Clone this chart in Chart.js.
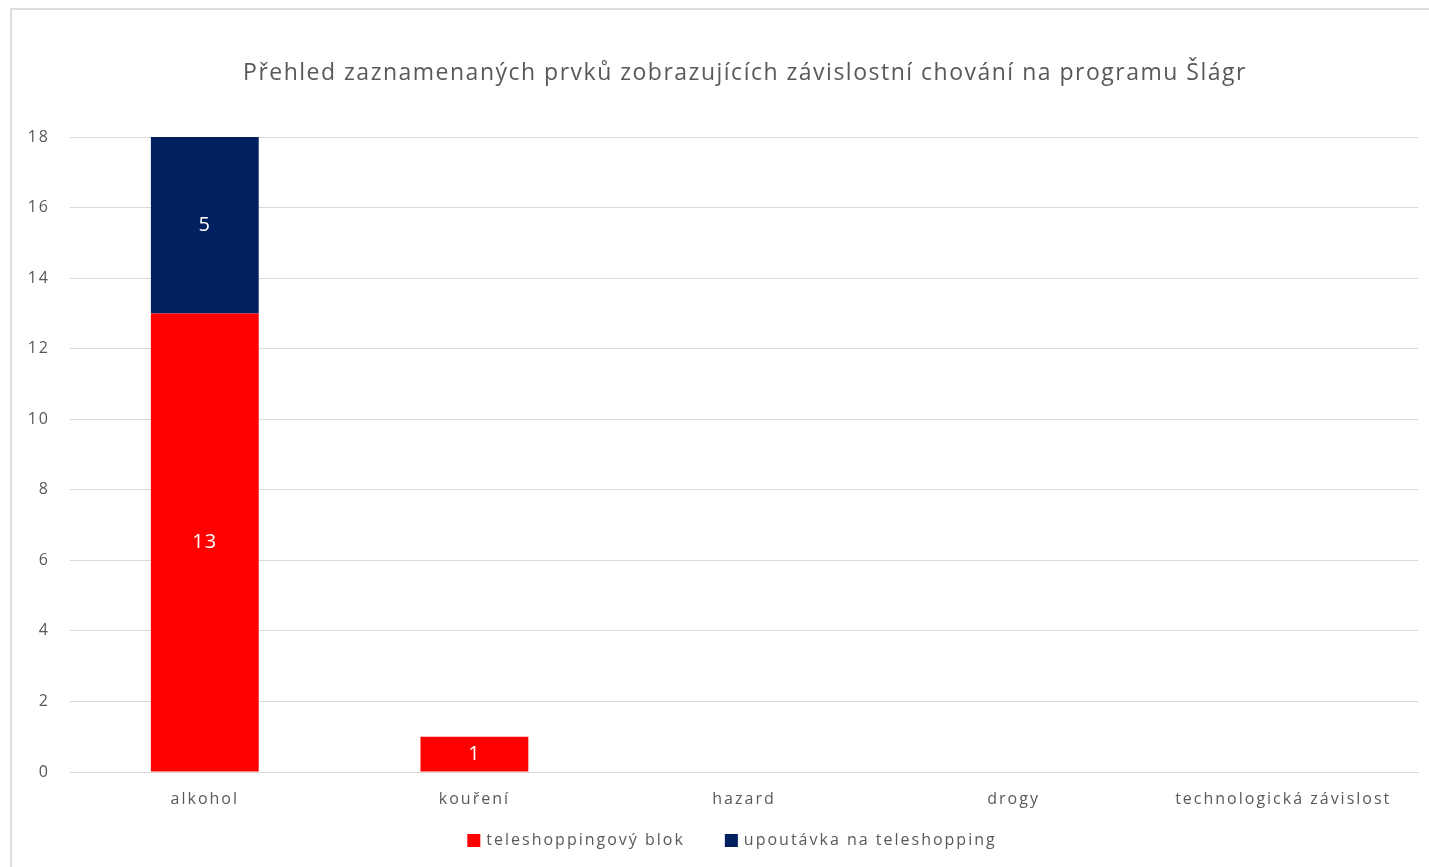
<!DOCTYPE html>
<html>
<head>
<meta charset="utf-8">
<script src="https://cdn.jsdelivr.net/npm/chart.js@4"></script>
<style>
  html, body { margin: 0; padding: 0; background: #fff; overflow: hidden; }
  #frame { position: absolute; left: 10px; top: 8px; width: 1500px; height: 900px; border-left: 2px solid #dcdcdc; border-top: 2px solid #dcdcdc; }
  #wrap { position: absolute; left: 0; top: 0; width: 1429px; height: 867px; }
</style>
</head>
<body>
<div id="frame"></div>
<div id="wrap"><canvas id="chart"></canvas></div>
<script>
// data
var categories = ["alkohol", "kouření", "hazard", "drogy", "technologická závislost"];
var teleshoppingBlok = [13, 1, 0, 0, 0];
var upoutavka = [5, 0, 0, 0, 0];
var yTicks = [0, 2, 4, 6, 8, 10, 12, 14, 16, 18];
var chartTitle = 'Přehled zaznamenaných prvků zobrazujících závislostní chování na programu Šlágr';

var textColor = '#595959';
var fontFamily = "'Open Sans', 'Liberation Sans', sans-serif";

// sirsi rozestup pismen (jako v originale)
var spacing = {
    id: 'spacing',
    beforeUpdate: function(chart) { chart.ctx.letterSpacing = '2px'; },
    beforeDraw: function(chart) { chart.ctx.letterSpacing = '2px'; }
};

// nadpis vycentrovany nad plochou grafu
var plotTitle = {
    id: 'plotTitle',
    afterDraw: function(chart) {
        var ctx = chart.ctx;
        var a = chart.chartArea;
        ctx.save();
        ctx.letterSpacing = '1.5px';
        ctx.fillStyle = textColor;
        ctx.font = '23px ' + fontFamily;
        ctx.textAlign = 'center';
        ctx.textBaseline = 'middle';
        ctx.fillText(chartTitle, (a.left + a.right) / 2 + 1, 73);
        ctx.restore();
    }
};

// legenda pod grafem
var bottomLegend = {
    id: 'bottomLegend',
    afterDraw: function(chart) {
        var ctx = chart.ctx;
        var a = chart.chartArea;
        ctx.save();
        ctx.letterSpacing = '2px';
        ctx.font = '16px ' + fontFamily;
        ctx.textBaseline = 'middle';
        ctx.textAlign = 'left';
        var items = chart.data.datasets.map(function(ds) {
            return { text: ds.label, color: ds.backgroundColor, w: 19 + ctx.measureText(ds.label).width };
        });
        var gap = 40;
        var total = -gap;
        items.forEach(function(it) { total += it.w + gap; });
        var x = (a.left + a.right) / 2 - total / 2 - 12;
        var y = 840;
        items.forEach(function(it) {
            ctx.fillStyle = it.color;
            ctx.fillRect(x, y - 6, 13, 13);
            ctx.fillStyle = textColor;
            ctx.fillText(it.text, x + 19, y);
            x += it.w + gap;
        });
        ctx.restore();
    }
};

// hodnoty uvnitr sloupcu
var barLabels = {
    id: 'barLabels',
    afterDatasetsDraw: function(chart) {
        var ctx = chart.ctx;
        ctx.save();
        ctx.letterSpacing = '1px';
        ctx.fillStyle = '#ffffff';
        ctx.font = '20px ' + fontFamily;
        ctx.textAlign = 'center';
        ctx.textBaseline = 'middle';
        chart.data.datasets.forEach(function(ds, i) {
            var meta = chart.getDatasetMeta(i);
            meta.data.forEach(function(bar, j) {
                var v = ds.data[j];
                if (!v) return;
                ctx.fillText(String(v), bar.x, (bar.y + bar.base) / 2);
            });
        });
        ctx.restore();
    }
};

var ctx = document.getElementById('chart').getContext('2d');
new Chart(ctx, {
    type: 'bar',
    data: {
        labels: categories,
        datasets: [
            { label: 'teleshoppingový blok', data: teleshoppingBlok, backgroundColor: '#ff0000' },
            { label: 'upoutávka na teleshopping', data: upoutavka, backgroundColor: '#002060' }
        ]
    },
    options: {
        responsive: true,
        maintainAspectRatio: false,
        animation: false,
        categoryPercentage: 1,
        barPercentage: 0.4,
        layout: { padding: { left: 10, right: 11, top: 137, bottom: 45 } },
        plugins: {
            title: { display: false },
            legend: { display: false },
            tooltip: { enabled: false }
        },
        scales: {
            x: {
                stacked: true,
                grid: { display: false, drawTicks: false },
                border: { display: true, color: '#d9d9d9' },
                ticks: { color: textColor, font: { family: fontFamily, size: 16 }, padding: 18, maxRotation: 0 },
                afterFit: function(scale) { scale.height = 50; }
            },
            y: {
                stacked: true,
                min: 0,
                max: 18,
                afterBuildTicks: function(scale) {
                    scale.ticks = yTicks.map(function(v) { return { value: v }; });
                },
                grid: { color: '#d9d9d9', drawTicks: false },
                border: { display: false },
                ticks: { color: textColor, font: { family: fontFamily, size: 16 }, padding: 20 },
                afterFit: function(scale) { scale.width = 60; }
            }
        }
    },
    plugins: [spacing, plotTitle, bottomLegend, barLabels]
});
</script>
</body>
</html>
